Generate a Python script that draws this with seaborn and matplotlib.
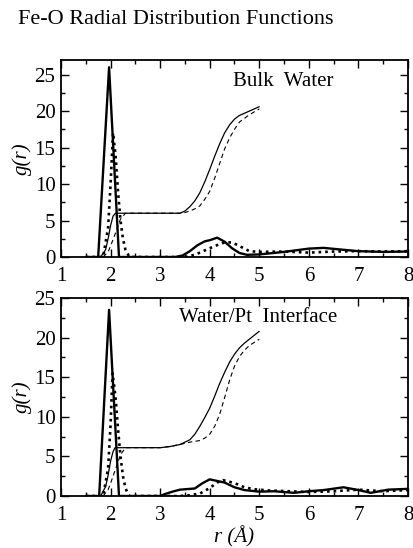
import matplotlib
matplotlib.use("Agg")
import matplotlib.pyplot as plt
from matplotlib.ticker import MultipleLocator
import seaborn as sns
import pandas as pd

# ---------------- data ----------------
# Bulk water panel
bulk_fe_r = [1.5, 1.75, 1.97, 2.17, 3.3, 3.45, 3.6, 3.75, 3.9, 4.0, 4.15, 4.3, 4.45, 4.6, 4.75, 5.0, 5.5, 6.0, 6.3, 6.6, 7.0, 7.5, 8.0]
bulk_fe_g = [0, 0, 26, 0, 0, 0.2, 0.8, 1.6, 2.15, 2.3, 2.65, 2.1, 1.2, 0.55, 0.3, 0.35, 0.7, 1.15, 1.25, 1.05, 0.8, 0.7, 0.75]

bulk_dot_r = [1.5, 1.85, 1.95, 2.0, 2.05, 2.1, 2.15, 2.2, 2.25, 2.3, 2.38, 3.5, 3.7, 3.9, 4.1, 4.3, 4.45, 4.6, 4.8, 5.0, 5.5, 6.0, 6.5, 7.0, 7.5, 8.0]
bulk_dot_g = [0, 0, 4, 10, 17, 14, 9, 5, 2.5, 1, 0, 0, 0.3, 0.9, 1.5, 2.0, 2.0, 1.5, 0.8, 0.7, 0.75, 0.6, 0.75, 0.8, 0.75, 0.8]

bulk_n_r = [1.8, 1.9, 1.95, 2.0, 2.05, 2.1, 3.4, 3.5, 3.6, 3.7, 3.8, 3.9, 4.0, 4.1, 4.2, 4.3, 4.4, 4.5, 4.6, 4.8, 5.0]
bulk_n_g = [0, 1.0, 2.5, 4.3, 5.6, 6.0, 6.0, 6.3, 6.9, 7.7, 8.8, 10.3, 12.0, 13.8, 15.5, 17.0, 18.1, 18.9, 19.4, 20.0, 20.6]

bulk_nd_r = [1.85, 1.95, 2.0, 2.1, 2.2, 2.3, 3.45, 3.6, 3.7, 3.8, 3.9, 4.0, 4.1, 4.2, 4.3, 4.4, 4.5, 4.6, 4.7, 4.8, 4.9, 5.0]
bulk_nd_g = [0, 0.7, 1.5, 3.3, 5.2, 6.0, 6.0, 6.3, 6.6, 7.0, 7.9, 9.0, 10.8, 12.8, 14.8, 16.3, 17.5, 18.5, 19.0, 19.5, 19.9, 20.3]

# Water/Pt interface panel
intf_fe_r = [1.5, 1.77, 1.97, 2.17, 3.0, 3.1, 3.25, 3.4, 3.6, 3.7, 3.85, 4.0, 4.15, 4.3, 4.5, 4.7, 5.0, 5.3, 5.7, 6.0, 6.3, 6.7, 7.0, 7.25, 7.6, 8.0]
intf_fe_g = [0, 0, 23.5, 0, 0, 0.25, 0.55, 0.8, 0.9, 0.95, 1.6, 2.1, 1.9, 1.7, 1.1, 0.75, 0.55, 0.6, 0.4, 0.6, 0.75, 1.1, 0.75, 0.4, 0.8, 0.9]

intf_dot_r = [1.5, 1.85, 1.95, 2.0, 2.04, 2.1, 2.15, 2.2, 2.25, 2.3, 2.37, 3.4, 3.6, 3.8, 4.0, 4.15, 4.27, 4.4, 4.55, 4.7, 4.9, 5.2, 5.6, 6.0, 6.5, 7.0, 7.5, 8.0]
intf_dot_g = [0, 0, 3.5, 9, 15.5, 12.5, 8.5, 5, 2.5, 1, 0, 0, 0.1, 0.3, 1.0, 1.7, 2.0, 1.8, 1.5, 1.1, 0.85, 0.7, 0.6, 0.5, 0.6, 0.8, 0.6, 0.75]

intf_n_r = [1.8, 1.9, 1.95, 2.0, 2.05, 2.09, 3.0, 3.2, 3.4, 3.6, 3.7, 3.8, 3.9, 4.0, 4.1, 4.2, 4.3, 4.4, 4.5, 4.6, 4.7, 4.8, 4.9, 5.0]
intf_n_g = [0, 1.2, 2.6, 4.4, 5.6, 6.1, 6.1, 6.25, 6.5, 7.1, 7.8, 8.8, 9.9, 11.1, 12.6, 14.2, 15.6, 16.9, 17.9, 18.7, 19.3, 19.8, 20.3, 20.8]

intf_nd_r = [1.85, 1.95, 2.0, 2.1, 2.2, 2.3, 3.0, 3.2, 3.4, 3.6, 3.8, 3.9, 4.0, 4.1, 4.2, 4.3, 4.4, 4.5, 4.6, 4.7, 4.8, 4.9, 5.0]
intf_nd_g = [0, 0.8, 1.6, 3.4, 5.2, 6.1, 6.1, 6.25, 6.5, 6.8, 7.0, 7.3, 7.8, 8.8, 10.3, 12.4, 14.6, 16.4, 17.6, 18.4, 19.0, 19.4, 19.8]

x_ticks = [1, 2, 3, 4, 5, 6, 7, 8]
y_ticks = [0, 5, 10, 15, 20, 25]

# ---------------- style ----------------
sns.set_theme(style="ticks")
plt.rcParams['font.family'] = ['Liberation Serif', 'DejaVu Serif']
plt.rcParams['text.color'] = 'black'
plt.rcParams['axes.labelcolor'] = 'black'
plt.rcParams['xtick.color'] = 'black'
plt.rcParams['ytick.color'] = 'black'
plt.rcParams['xtick.labelcolor'] = 'black'
plt.rcParams['ytick.labelcolor'] = 'black'

FS = 15

fig = plt.figure(figsize=(4.14, 5.48), dpi=100)
ax1 = fig.add_axes([61/414, 1-257/548, 347/414, 197/548])
ax2 = fig.add_axes([61/414, 1-496/548, 347/414, 198/548])

def draw(ax, fr, fg, dr, dg, nr, ng, ndr, ndg):
    sns.lineplot(x=fr, y=fg, ax=ax, color='black', lw=1.7, sort=False, estimator=None)
    sns.lineplot(x=dr, y=dg, ax=ax, color='black', lw=1.9, sort=False, estimator=None,
                 linestyle=(0, (1, 1.5)))
    sns.lineplot(x=nr, y=ng, ax=ax, color='black', lw=0.9, sort=False, estimator=None)
    sns.lineplot(x=ndr, y=ndg, ax=ax, color='black', lw=0.8, sort=False, estimator=None,
                 linestyle=(0, (4, 3)))

draw(ax1, bulk_fe_r, bulk_fe_g, bulk_dot_r, bulk_dot_g, bulk_n_r, bulk_n_g, bulk_nd_r, bulk_nd_g)
draw(ax2, intf_fe_r, intf_fe_g, intf_dot_r, intf_dot_g, intf_n_r, intf_n_g, intf_nd_r, intf_nd_g)

for ax, ytop in ((ax1, 27), (ax2, 25)):
    ax.set_xlim(1, 8)
    ax.set_ylim(0, ytop)
    ax.set_xticks(x_ticks)
    ax.set_xticklabels([str(t) for t in x_ticks])
    ax.set_yticks(y_ticks)
    ax.set_yticklabels([str(t) for t in y_ticks])
    ax.xaxis.set_minor_locator(MultipleLocator(0.5))
    ax.yaxis.set_minor_locator(MultipleLocator(2.5))
    ax.tick_params(which='both', direction='in', top=True, right=True, colors='black',
                   labelsize=FS, width=1.0)
    ax.tick_params(which='major', length=6)
    ax.tick_params(which='minor', length=3)
    ax.tick_params(axis='x', pad=7)
    ax.tick_params(axis='y', pad=4)
    for s in ax.spines.values():
        s.set_linewidth(1.3)
        s.set_color('black')
    ax.set_ylabel('g(r)', fontsize=FS, style='italic', labelpad=2, color='black')
    ax.set_xlabel('')

ax2.set_xlabel('r (Å)', fontsize=FS, style='italic', labelpad=1, color='black')

ax1.text(5.48, 24, 'Bulk  Water', fontsize=FS, ha='center', va='center', color='black')
ax2.text(4.97, 22.5, 'Water/Pt  Interface', fontsize=FS, ha='center', va='center', color='black')

fig.text(18/414, 1-20/548, 'Fe-O Radial Distribution Functions', fontsize=FS+1,
         ha='left', va='center', color='black')

fig.savefig('out.png', dpi=100)
